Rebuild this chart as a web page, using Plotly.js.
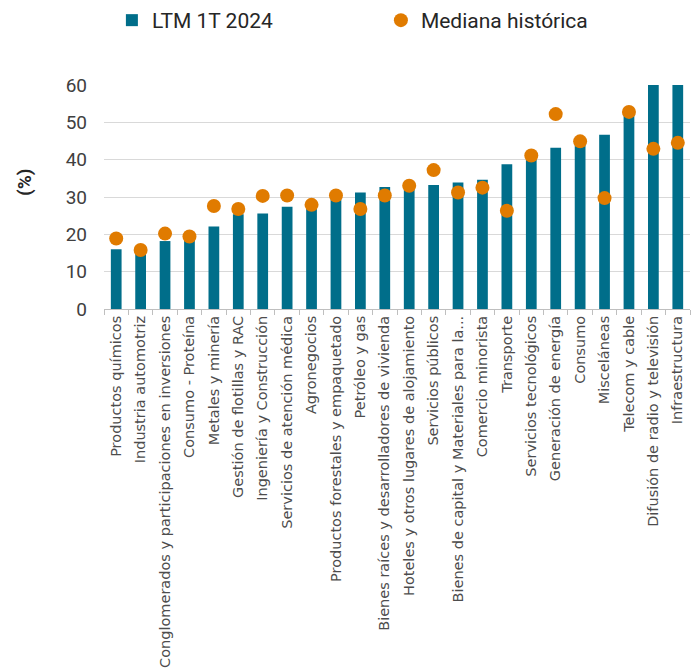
<!DOCTYPE html>
<html>
<head>
<meta charset="utf-8">
<script src="https://cdn.plot.ly/plotly-3.0.1.min.js"></script>
<style>html,body{margin:0;padding:0;background:#fff;}#chart{width:695px;height:672px;}</style>
</head>
<body>
<div id="chart"></div>
<script>
const categories = [
  "Productos químicos",
  "Industria automotriz",
  "Conglomerados y participaciones en inversiones",
  "Consumo - Proteína",
  "Metales y minería",
  "Gestión de flotillas y RAC",
  "Ingeniería y Construcción",
  "Servicios de atención médica",
  "Agronegocios",
  "Productos forestales y empaquetado",
  "Petróleo y gas",
  "Bienes raíces y desarrolladores de vivienda",
  "Hoteles y otros lugares de alojamiento",
  "Servicios públicos",
  "Bienes de capital y Materiales para la...",
  "Comercio minorista",
  "Transporte",
  "Servicios tecnológicos",
  "Generación de energía",
  "Consumo",
  "Misceláneas",
  "Telecom y cable",
  "Difusión de radio y televisión",
  "Infraestructura"
];
const ltm1T2024 = [16.0, 15.6, 18.2, 18.6, 22.1, 25.4, 25.6, 27.4, 27.2, 29.5, 31.2, 32.7, 32.8, 33.2, 33.9, 34.6, 38.8, 40.6, 43.2, 44.4, 46.7, 52.0, 61, 63];
const medianaHistorica = [18.9, 15.8, 20.2, 19.4, 27.6, 26.8, 30.3, 30.4, 27.9, 30.4, 26.8, 30.4, 33.0, 37.2, 31.2, 32.5, 26.3, 41.1, 52.2, 44.9, 29.7, 52.8, 42.9, 44.5];
const yTicks = [0, 10, 20, 30, 40, 50, 60];
const yTitle = "(%)";

const font = "Roboto, 'Liberation Sans', Arial, sans-serif";
const labelFont = "'DejaVu Sans', 'Open Sans', sans-serif";

const traces = [
  {
    type: "bar",
    name: "LTM 1T 2024",
    x: categories,
    y: ltm1T2024,
    marker: {color: "#006e8a"}
  },
  {
    type: "scatter",
    mode: "markers",
    name: "Mediana histórica",
    x: categories,
    y: medianaHistorica,
    marker: {color: "#e07b00", size: 14},
    cliponaxis: false
  }
];

const layout = {
  width: 695,
  height: 672,
  margin: {l: 104, r: 5, t: 85, b: 363},
  paper_bgcolor: "#fff",
  plot_bgcolor: "#fff",
  font: {family: font, color: "#404040", size: 14},
  bargap: 0.56,
  showlegend: true,
  legend: {
    orientation: "h",
    xref: "container",
    yref: "container",
    x: 0.161,
    xanchor: "left",
    y: 1,
    yanchor: "top",
    font: {family: font, size: 21, color: "#262626"},
    entrywidth: 224,
    entrywidthmode: "pixels",
    itemwidth: 30,
    traceorder: "normal"
  },
  xaxis: {
    type: "category",
    range: [-0.5, categories.length - 0.5],
    tickangle: -90,
    tickfont: {family: labelFont, size: 14.5, color: "#4d4d4d"},
    showgrid: false,
    showline: true,
    linecolor: "#bfbfbf",
    linewidth: 1,
    ticks: "outside",
    tickson: "boundaries",
    ticklen: 5,
    tickcolor: "#bfbfbf",
    automargin: false
  },
  yaxis: {
    range: [0, 60],
    tickvals: yTicks,
    ticktext: yTicks.map(String),
    tickfont: {family: font, size: 19, color: "#404040"},
    showgrid: true,
    gridcolor: "#d9d9d9",
    gridwidth: 1,
    zeroline: false,
    showline: false,
    ticks: "",
    ticklabelstandoff: 16,
    automargin: false
  },
  annotations: [
    {
      text: "<b>" + yTitle + "</b>",
      xref: "paper",
      yref: "paper",
      x: -0.135,
      y: 0.567,
      xanchor: "center",
      yanchor: "middle",
      textangle: -90,
      showarrow: false,
      font: {family: font, size: 19, color: "#262626"}
    }
  ]
};

Plotly.newPlot("chart", traces, layout, {displayModeBar: false, staticPlot: true});
</script>
</body>
</html>
